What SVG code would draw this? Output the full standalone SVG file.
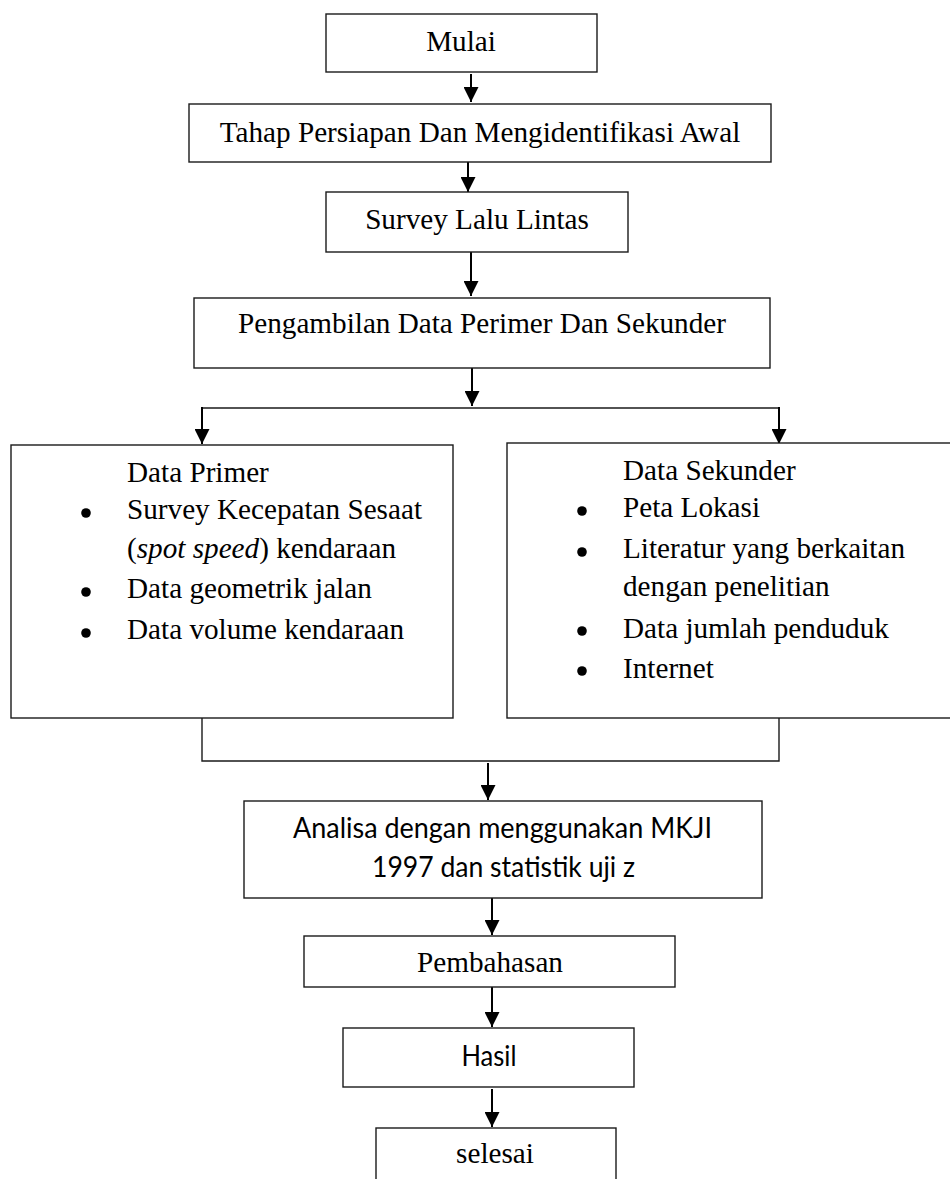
<svg xmlns="http://www.w3.org/2000/svg" width="950" height="1179" viewBox="0 0 950 1179">
<style>
.box{fill:#fff;stroke:#1a1a1a;stroke-width:1.4}
.t{font-family:"Liberation Serif","Times New Roman",serif;font-size:29.2px;fill:#000}
.c{font-family:Lato,"Open Sans","Liberation Sans",sans-serif;font-size:28px;fill:#000}
.m{text-anchor:middle}
.ar{fill:none;stroke:#000;stroke-width:2;marker-end:url(#ah)}
.ln{fill:none;stroke:#1a1a1a;stroke-width:1.4}
.bl{fill:#000}
</style>
<defs>
<marker id="ah" markerUnits="userSpaceOnUse" markerWidth="15" markerHeight="15" viewBox="0 0 10 10" refX="10" refY="5" orient="auto">
<path d="M0,0 L10,5 L0,10 z" fill="#000"/>
</marker>
</defs>
<rect width="950" height="1179" fill="#fff"/>
<g id="connectors">
<line class="ar" x1="471" y1="74" x2="471" y2="102"/>
<line class="ar" x1="468" y1="162" x2="468" y2="192"/>
<line class="ar" x1="471" y1="252" x2="471" y2="296"/>
<line class="ar" x1="472" y1="368" x2="472" y2="406"/>
<line class="ln" x1="202" y1="408" x2="779" y2="408"/>
<line class="ar" x1="202" y1="407" x2="202" y2="444"/>
<line class="ar" x1="779" y1="407" x2="779" y2="444"/>
<polyline class="ln" points="202,718 202,761 779,761 779,718"/>
<line class="ar" x1="488" y1="763" x2="488" y2="800"/>
<line class="ar" x1="492" y1="898" x2="492" y2="935"/>
<line class="ar" x1="492" y1="987" x2="492" y2="1027"/>
<line class="ar" x1="492" y1="1089" x2="492" y2="1127"/>
</g>
<g id="mulai">
<rect class="box" x="326" y="14" width="271" height="58"/>
<text class="t m" x="461" y="51">Mulai</text>
</g>
<g id="tahap">
<rect class="box" x="189" y="104" width="582" height="58"/>
<text class="t m" x="480" y="142">Tahap Persiapan Dan Mengidentifikasi Awal</text>
</g>
<g id="survey">
<rect class="box" x="326" y="192" width="302" height="60"/>
<text class="t m" x="477" y="229">Survey Lalu Lintas</text>
</g>
<g id="pengambilan">
<rect class="box" x="194" y="298" width="576" height="70"/>
<text class="t m" x="482" y="333">Pengambilan Data Perimer Dan Sekunder</text>
</g>
<g id="data-primer">
<rect class="box" x="11" y="445" width="442" height="273"/>
<text class="t" x="127" y="482">Data Primer</text>
<circle class="bl" cx="86" cy="513" r="4.8"/>
<text class="t" x="127" y="519">Survey Kecepatan Sesaat</text>
<text class="t" x="127" y="558">(<tspan font-style="italic">spot speed</tspan>) kendaraan</text>
<circle class="bl" cx="86" cy="592" r="4.8"/>
<text class="t" x="127" y="598">Data geometrik jalan</text>
<circle class="bl" cx="86" cy="633" r="4.8"/>
<text class="t" x="127" y="639">Data volume kendaraan</text>
</g>
<g id="data-sekunder">
<rect class="box" x="507" y="443" width="460" height="275"/>
<text class="t" x="623" y="480">Data Sekunder</text>
<circle class="bl" cx="582" cy="511" r="4.8"/>
<text class="t" x="623" y="517">Peta Lokasi</text>
<circle class="bl" cx="582" cy="552" r="4.8"/>
<text class="t" x="623" y="558">Literatur yang berkaitan</text>
<text class="t" x="623" y="596">dengan penelitian</text>
<circle class="bl" cx="582" cy="631" r="4.8"/>
<text class="t" x="623" y="638">Data jumlah penduduk</text>
<circle class="bl" cx="582" cy="671" r="4.8"/>
<text class="t" x="623" y="678">Internet</text>
</g>
<g id="analisa">
<rect class="box" x="244" y="801" width="518" height="97"/>
<text class="c m" x="502.5" y="838" textLength="419" lengthAdjust="spacingAndGlyphs">Analisa dengan menggunakan MKJI</text>
<text class="c m" x="503.5" y="877" textLength="263" lengthAdjust="spacingAndGlyphs">1997 dan statistik uji z</text>
</g>
<g id="pembahasan">
<rect class="box" x="304" y="936" width="371" height="51"/>
<text class="t m" x="490" y="972">Pembahasan</text>
</g>
<g id="hasil">
<rect class="box" x="343" y="1028" width="291" height="59"/>
<text class="c m" x="489" y="1066" textLength="55" lengthAdjust="spacingAndGlyphs">Hasil</text>
</g>
<g id="selesai">
<rect class="box" x="376" y="1128" width="240" height="70"/>
<text class="t m" x="495" y="1163">selesai</text>
</g>
</svg>
